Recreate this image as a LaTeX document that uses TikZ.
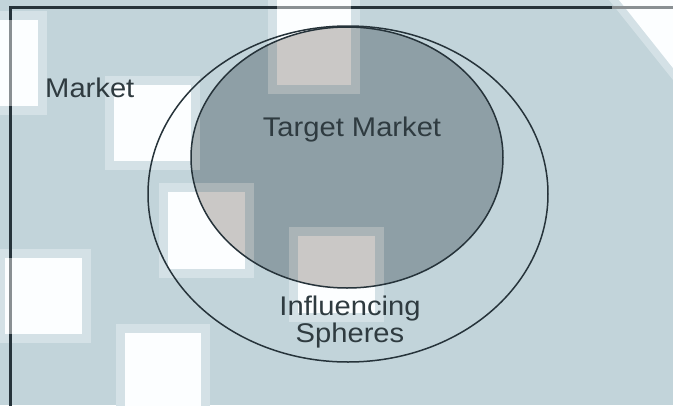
\documentclass[tikz,border=0pt]{standalone}
\usepackage{fontspec}
\setmainfont{Liberation Sans}
\definecolor{bgblue}{HTML}{C2D4DA}
\definecolor{bandblue}{HTML}{D4E1E6}
\definecolor{paper}{HTML}{FCFEFF}
\definecolor{targetfill}{HTML}{8E9FA6}
\definecolor{sqgray}{HTML}{CAC8C6}
\definecolor{bandgray}{HTML}{AAB4B7}
\definecolor{inkline}{HTML}{26333A}
\definecolor{inktext}{HTML}{2F3B40}
\definecolor{fadeline}{HTML}{8A9093}
\tikzset{
  ringline/.style={draw=inkline, line width=1.5pt},
  framelinestyle/.style={draw=inkline, line width=2.2pt},
  fadedline/.style={draw=fadeline, line width=2.2pt},
  labeltext/.style={text=inktext, inner sep=0pt, xscale=1.08,
    font=\fontsize{27}{25}\selectfont},
}
% light squares with a soft band: #1,#2 = top-left, #3,#4 = bottom-right of the core
\newcommand\lightsq[4]{%
  \fill[bandblue] ({#1-9},{#2-9}) rectangle ({#3+9},{#4+9});
  \fill[paper] (#1,#2) rectangle (#3,#4);}
\newcommand\shadedsq[4]{%
  \fill[bandgray] ({#1-9},{#2-9}) rectangle ({#3+9},{#4+9});
  \fill[sqgray] (#1,#2) rectangle (#3,#4);}
\begin{document}
\begin{tikzpicture}[x=1pt,y=-1pt]
  \useasboundingbox (0,0) rectangle (673,405);
  \fill[bgblue] (0,0) rectangle (673,405);
  % scattered light squares
  \lightsq{-10}{20}{38}{106}
  \lightsq{114}{85}{191}{161}
  \lightsq{277}{-10}{351}{85}
  \lightsq{168}{192}{245}{269}
  \lightsq{5}{258}{82}{334}
  \lightsq{125}{333}{201}{415}
  \lightsq{298}{236}{375}{313}
  % corner fade
  \fill[bandblue] (609,0) -- (673,0) -- (673,80) -- cycle;
  \fill[paper] (619,0) -- (673,0) -- (673,68) -- cycle;
  % target market body
  \fill[targetfill] (347,157.5) ellipse [x radius=156, y radius=130.5];
  \begin{scope}
    \clip (347,157.5) ellipse [x radius=156, y radius=130.5];
    \shadedsq{114}{85}{191}{161}
    \shadedsq{277}{-10}{351}{85}
    \shadedsq{168}{192}{245}{269}
    \shadedsq{298}{236}{375}{313}
  \end{scope}
  % market frame
  \coordinate (frameBL) at (10.5,406);
  \coordinate (frameTL) at (10.5,7.5);
  \coordinate (frameTR) at (674,7.5);
  \draw[framelinestyle] (frameBL) -- (frameTL) -- (frameTR);
  \draw[fadedline] (10.5,20) -- (10.5,106);
  \draw[fadedline] (10.5,258) -- (10.5,334);
  \draw[fadedline] (277,7.5) -- (351,7.5);
  \draw[fadedline] (612,7.5) -- (674,7.5);
  % spheres
  \draw[ringline] (348,194) ellipse [x radius=200, y radius=168];
  \draw[ringline] (347,157.5) ellipse [x radius=156, y radius=130.5];
  % labels
  \node[labeltext, anchor=base west] (market) at (45,97) {Market};
  \node[labeltext, anchor=base] (target) at (352,136) {Target Market};
  \node[labeltext, anchor=base, align=center] (influence) at (350,342) {Influencing\\Spheres};
\end{tikzpicture}
\end{document}
